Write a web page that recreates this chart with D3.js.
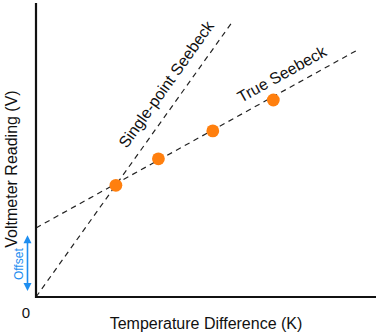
<!DOCTYPE html>
<html>
<head>
<meta charset="utf-8">
<script src="https://cdn.jsdelivr.net/npm/d3@7"></script>
<style>
  html, body { margin: 0; padding: 0; background: #fff; }
  svg { display: block; font-family: "Liberation Sans", Arial, Helvetica, sans-serif; }
</style>
</head>
<body>
<div id="chart"></div>
<script>
// measured points (temperature difference, voltmeter reading), arbitrary units
const pointX = [2.35, 3.6, 5.2, 6.98];
const pointY = [3.8, 4.7, 5.65, 6.7];

// fitted lines
const trueLineX = [0, 9.42];
const trueLineY = [2.35, 8.38];
const singleLineX = [0, 5.8];
const singleLineY = [0, 9.4];

// offset arrow span on the y axis
const offsetSpan = [0.2, 2.1];

const xLabel = 'Temperature Difference (K)';
const yLabel = 'Voltmeter Reading (V)';
const zeroLabel = '0';

const width = 380;
const height = 336;

const x = d3.scaleLinear().domain([0, 10]).range([36, 376]);
const y = d3.scaleLinear().domain([0, 10]).range([297, 3]);

const svg = d3.select('#chart')
  .append('svg')
  .attr('width', width)
  .attr('height', height);

// dashed lines
const line = d3.line().x(d => x(d[0])).y(d => y(d[1]));

svg.append('path')
  .datum(d3.zip(singleLineX, singleLineY))
  .attr('d', line)
  .attr('fill', 'none')
  .attr('stroke', '#222')
  .attr('stroke-width', 1.2)
  .attr('stroke-dasharray', '5.5,4.5');

svg.append('path')
  .datum(d3.zip(trueLineX, trueLineY))
  .attr('d', line)
  .attr('fill', 'none')
  .attr('stroke', '#222')
  .attr('stroke-width', 1.2)
  .attr('stroke-dasharray', '5.5,4.5');

// axes (plain lines, no ticks)
svg.append('line')
  .attr('x1', x(0)).attr('y1', y(10))
  .attr('x2', x(0)).attr('y2', y(0) + 1)
  .attr('stroke', '#111').attr('stroke-width', 2.2);

svg.append('line')
  .attr('x1', x(0) - 1).attr('y1', y(0))
  .attr('x2', x(10)).attr('y2', y(0))
  .attr('stroke', '#111').attr('stroke-width', 2.2);

// points
svg.selectAll('circle.pt')
  .data(d3.zip(pointX, pointY))
  .enter()
  .append('circle')
  .attr('class', 'pt')
  .attr('cx', d => x(d[0]))
  .attr('cy', d => y(d[1]))
  .attr('r', 6.4)
  .attr('fill', '#ff7f0e');

// label placed along a line, shifted up-left by `off` px
function lineLabel(xs, ys, t, off, text) {
  const x0 = x(xs[0]), y0 = y(ys[0]);
  const x1 = x(xs[1]), y1 = y(ys[1]);
  const ang = Math.atan2(y1 - y0, x1 - x0);
  const px = x0 + (x1 - x0) * t;
  const py = y0 + (y1 - y0) * t;
  const nx = Math.sin(ang) * off;
  const ny = -Math.cos(ang) * off;
  svg.append('text')
    .attr('transform', `translate(${px + nx},${py + ny}) rotate(${ang * 180 / Math.PI})`)
    .attr('text-anchor', 'middle')
    .style('font-size', '16px')
    .attr('fill', '#111')
    .text(text);
}

lineLabel(singleLineX, singleLineY, (4.25 - singleLineX[0]) / (singleLineX[1] - singleLineX[0]), 12, 'Single-point Seebeck');
lineLabel(trueLineX, trueLineY, (7.45 - trueLineX[0]) / (trueLineX[1] - trueLineX[0]), 10, 'True Seebeck');

// offset arrow
const blue = '#1e8ef0';
const ax = 27.5;
const yTop = y(offsetSpan[1]);
const yBot = y(offsetSpan[0]);
svg.append('line')
  .attr('x1', ax).attr('y1', yTop + 6)
  .attr('x2', ax).attr('y2', yBot - 6)
  .attr('stroke', blue).attr('stroke-width', 1.6);
svg.append('path')
  .attr('d', `M${ax},${yTop} L${ax - 4},${yTop + 8} L${ax + 4},${yTop + 8} Z`)
  .attr('fill', blue);
svg.append('path')
  .attr('d', `M${ax},${yBot} L${ax - 4},${yBot - 8} L${ax + 4},${yBot - 8} Z`)
  .attr('fill', blue);
svg.append('text')
  .attr('transform', `translate(${ax - 5},${(yTop + yBot) / 2 + 1}) rotate(-90)`)
  .attr('text-anchor', 'middle')
  .style('font-size', '12px')
  .attr('fill', blue)
  .text('Offset');

// axis labels
svg.append('text')
  .attr('x', 26)
  .attr('y', 318)
  .attr('text-anchor', 'middle')
  .style('font-size', '15px')
  .attr('fill', '#111')
  .text(zeroLabel);

svg.append('text')
  .attr('x', 206)
  .attr('y', 329)
  .attr('text-anchor', 'middle')
  .style('font-size', '16px')
  .attr('fill', '#111')
  .text(xLabel);

svg.append('text')
  .attr('transform', 'translate(17,169) rotate(-90)')
  .attr('text-anchor', 'middle')
  .style('font-size', '16px')
  .attr('fill', '#111')
  .text(yLabel);
</script>
</body>
</html>
